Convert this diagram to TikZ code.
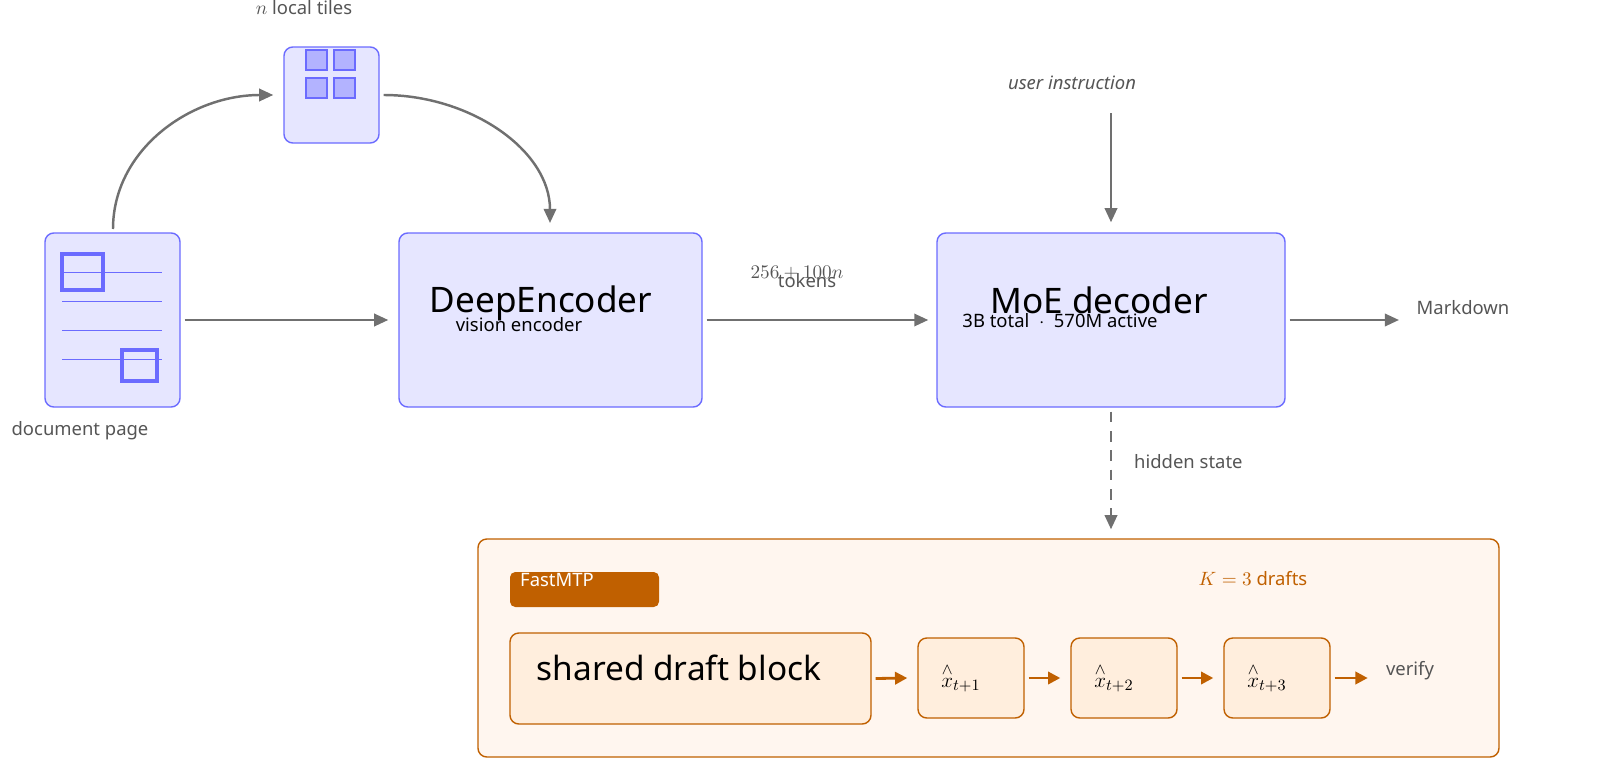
\documentclass[tikz,border=0pt]{standalone}
\usepackage{amsmath}
\usepackage{fontspec}
\setmainfont{Noto Sans}
\usepackage{tikz}
\usetikzlibrary{arrows.meta}
\newcommand\pxu{0.02cm}
\definecolor{blueline}{HTML}{6B6BFF}
\definecolor{bluefill}{HTML}{E6E6FF}
\definecolor{tilefill}{HTML}{B3B3FF}
\definecolor{greyline}{HTML}{707070}
\definecolor{greytext}{HTML}{555555}
\definecolor{orangeline}{HTML}{C06000}
\definecolor{orangefill}{HTML}{FFEEDD}
\definecolor{orangepale}{HTML}{FFF6EF}
\tikzset{
  bluebox/.style={draw=blueline,fill=bluefill,rounded corners=5pt,line width=0.8pt},
  orangebox/.style={draw=orangeline,fill=orangefill,rounded corners=5pt,line width=0.8pt},
  flow/.style={draw=greyline,line width=1.4pt,-{Triangle[length=8pt,width=7pt]}},
  draftflow/.style={draw=orangeline,line width=1.6pt,-{Triangle[length=7pt,width=7pt]}},
  note/.style={text=greytext,font=\fontsize{10.5}{12}\selectfont},
  title/.style={font=\fontsize{20}{24}\selectfont\bfseries}
}
\begin{document}
\begin{tikzpicture}[x=\pxu,y=-\pxu]
  \useasboundingbox (0,0) rectangle (1600,774);
  % document page
  \node[bluebox,minimum width=135*\pxu,minimum height=174*\pxu] (doc) at (112.5,320) {};
  \foreach \ly in {272,301,330,359}
    \draw[blueline,line width=0.5pt] (62,\ly) -- (162,\ly);
  \draw[blueline,line width=2.4pt] (62,254) rectangle (103,290);
  \draw[blueline,line width=2.4pt] (122,350) rectangle (157,381);
  \node[note] (doclabel) at (80,431) {document page};
  % local tiles
  \node[bluebox,minimum width=95*\pxu,minimum height=96*\pxu] (tiles) at (331.5,95) {};
  \foreach \tx in {306,334}
    \foreach \ty in {50,78}
      \draw[blueline,fill=tilefill,line width=0.7pt] (\tx,\ty) rectangle ++(21,20);
  \node[note] (tilelabel) at (304,8) {$n$ local tiles};
  % encoder and decoder
  \node[bluebox,minimum width=303*\pxu,minimum height=174*\pxu] (enc) at (550.5,320) {};
  \node[title] (enctitle) at (541,303) {DeepEncoder};
  \node[font=\fontsize{10.5}{12}\selectfont] (encsub) at (519,325) {vision encoder};
  \node[bluebox,minimum width=348*\pxu,minimum height=174*\pxu] (dec) at (1111,320) {};
  \node[title] (dectitle) at (1099,300) {MoE decoder};
  \node[font=\fontsize{10.5}{12}\selectfont] (decsub) at (1060,321) {3B total \ $\cdot$ \ 570M active};
  \node[note,font=\fontsize{10.5}{12}\selectfont\itshape] (instr) at (1072,83) {user instruction};
  \coordinate (instrend) at (1111,113);
  \node[note] (md) at (1463,308) {Markdown};
  \node[note,anchor=west] (hidden) at (1128,462) {hidden state};
  \node[greytext,font=\fontsize{11}{12}\selectfont] (toknum) at (797,273) {$256+100n$};
  \node[note] (toklabel) at (807,281) {tokens};
  % connectors
  \draw[flow] ([xshift=4*\pxu]doc.east) -- ([xshift=-10*\pxu]enc.west);
  \draw[flow] ([xshift=4*\pxu]enc.east) -- ([xshift=-8*\pxu]dec.west);
  \draw[flow] ([xshift=4*\pxu]dec.east) -- (1399,320);
  \draw[flow] (instrend) -- ([yshift=10*\pxu]dec.north);
  \draw[flow] (113,229) .. controls (113,150) and (190,95) .. ([xshift=-10*\pxu]tiles.west);
  \draw[flow] ([xshift=4*\pxu]tiles.east) .. controls (470,95) and (550,150) .. (550,223);
  % FastMTP block
  \node[draw=orangeline,fill=orangepale,rounded corners=5pt,line width=0.8pt,minimum width=1021*\pxu,minimum height=218*\pxu] (mtp) at (988.5,648) {};
  \draw[flow,dash pattern=on 6pt off 5pt] ([yshift=-4*\pxu]dec.south) -- ([yshift=9*\pxu]mtp.north -| dec.south);
  \node[fill=orangeline,rounded corners=3pt,minimum width=149*\pxu,minimum height=35*\pxu] (tag) at (584.5,589.5) {};
  \node[text=white,font=\fontsize{10.5}{12}\selectfont,anchor=west] (tagtext) at (514,580) {FastMTP};
  \node[text=orangeline,font=\fontsize{10.5}{12}\selectfont] (kdrafts) at (1253,579) {$K=3$ drafts};
  \node[orangebox,minimum width=361*\pxu,minimum height=91*\pxu] (shared) at (690.5,678.5) {};
  \node[title,font=\fontsize{19}{22}\selectfont\bfseries] (sharedtitle) at (679,668) {shared draft block};
  \foreach \i/\cx in {1/971,2/1124,3/1277} {
    \node[orangebox,minimum width=106*\pxu,minimum height=80*\pxu] (x\i) at (\cx,678) {};
    \node[font=\fontsize{13}{15}\selectfont] at (\cx-10,678) {$\overset{\wedge}{x}_{t+\i}$};
  }
  \node[note] (verify) at (1410,671) {verify};
  \draw[draftflow] ([xshift=4*\pxu]shared.east) -- ([xshift=-10*\pxu]x1.west);
  \draw[draftflow] ([xshift=4*\pxu]x1.east) -- ([xshift=-10*\pxu]x2.west);
  \draw[draftflow] ([xshift=4*\pxu]x2.east) -- ([xshift=-10*\pxu]x3.west);
  \draw[draftflow] ([xshift=4*\pxu]x3.east) -- ([xshift=37*\pxu]x3.east);
\end{tikzpicture}
\end{document}
